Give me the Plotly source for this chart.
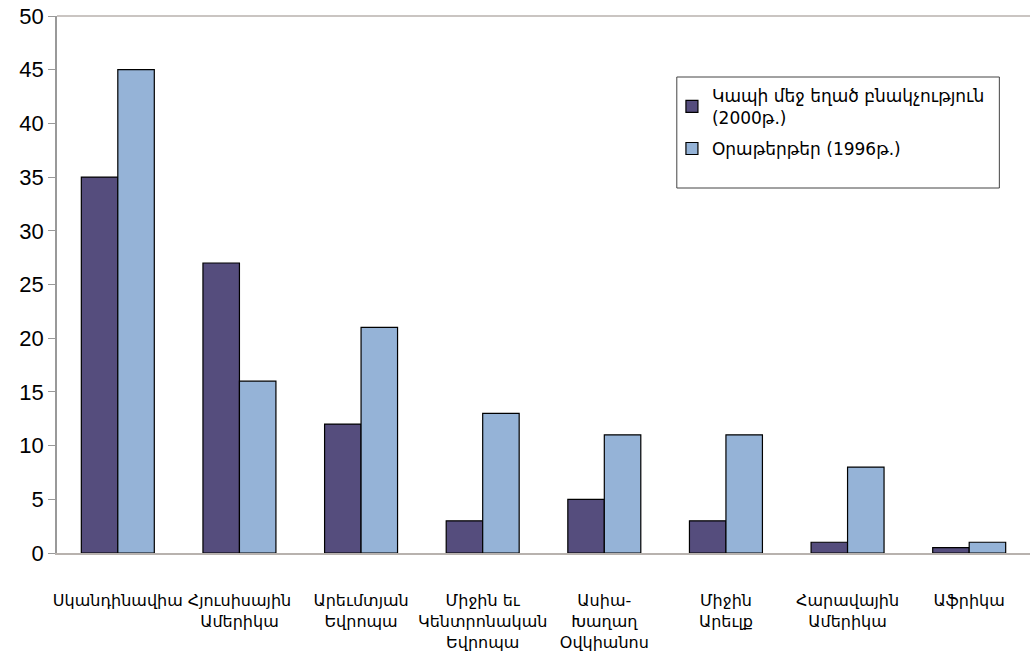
import plotly.graph_objects as go

categories = [
    "Սկանդինավիա",
    "Հյուսիսային<br>Ամերիկա",
    "Արեւմտյան<br>Եվրոպա",
    "Միջին եւ<br>Կենտրոնական<br>Եվրոպա",
    "Ասիա-<br>Խաղաղ<br>Օվկիանոս",
    "Միջին<br>Արեւլք",
    "Հարավային<br>Ամերիկա",
    "Աֆրիկա",
]
series1_name = "Կապի մեջ եղած բնակչություն<br>(2000թ.)"
series2_name = "Օրաթերթեր (1996թ.)"
series1 = [35, 27, 12, 3, 5, 3, 1, 0.5]
series2 = [45, 16, 21, 13, 11, 11, 8, 1]
yticks = [0, 5, 10, 15, 20, 25, 30, 35, 40, 45, 50]

fig = go.Figure()
fig.add_trace(go.Bar(x=categories, y=series1, name=series1_name, legendgroup="a",
                     marker=dict(color="#554D7D", line=dict(color="#000000", width=1.2))))
fig.add_trace(go.Bar(x=categories, y=series2, name=series2_name, legendgroup="b",
                     marker=dict(color="#95B3D7", line=dict(color="#000000", width=1.2))))

fig.update_layout(
    width=1030, height=656,
    margin=dict(l=57, r=0, t=16, b=103),
    paper_bgcolor="white", plot_bgcolor="white",
    barmode="group", bargap=0.4, bargroupgap=0,
    showlegend=True,
    legend=dict(x=0.632, y=0.885, xanchor="left", yanchor="top",
                bgcolor="rgba(0,0,0,0)", borderwidth=0,
                font=dict(family="DejaVu Sans", size=17, color="black"),
                traceorder="grouped", tracegroupgap=6, itemwidth=30),
    font=dict(family="DejaVu Sans", color="black"),
    shapes=[
        dict(type="rect", xref="paper", yref="paper", x0=0.637, x1=0.9685,
             y0=(553-188)/537, y1=(553-77)/537,
             line=dict(color="#444444", width=1), fillcolor="rgba(0,0,0,0)", layer="below"),
        dict(type="line", xref="paper", yref="paper", x0=0, x1=1, y0=1, y1=1,
             line=dict(color="#B8B2AE", width=1.5)),
    ],
)
fig.update_yaxes(range=[0, 50], tickvals=yticks, ticks="outside", ticklen=7,
                 tickcolor="#999999", showline=True, linecolor="#999999", linewidth=1.5,
                 showgrid=False, zeroline=False,
                 tickfont=dict(family="Liberation Sans", size=22, color="black"))
fig.update_xaxes(showline=True, linecolor="#B8B2AE", linewidth=1.5, ticks="",
                 showgrid=False, ticklabelstandoff=32,
                 tickfont=dict(family="DejaVu Sans", size=16, color="black"))

fig.write_html("out.html")
